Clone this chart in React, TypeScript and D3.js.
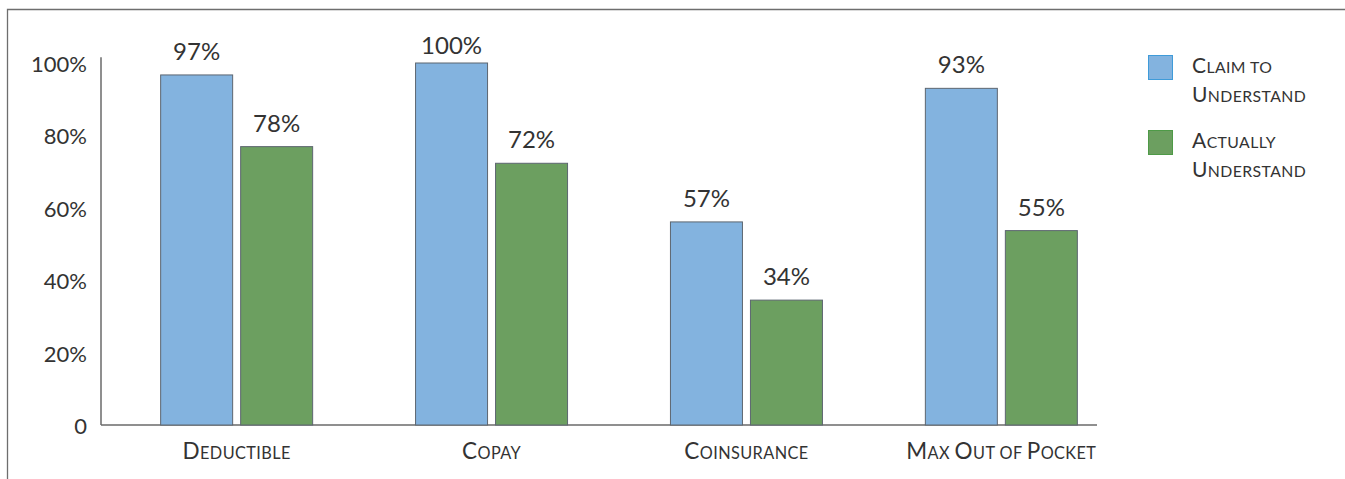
import React from "react";
import * as d3 from "d3";

const categories = ["Deductible", "Copay", "Coinsurance", "Max Out of Pocket"];
const seriesNames = ["Claim to Understand", "Actually Understand"];
// bar heights
const claimValues = [96.7, 100, 56.1, 93];
const actualValues = [76.9, 72.3, 34.5, 53.7];
// data labels as printed on the chart
const claimLabels = ["97%", "100%", "57%", "93%"];
const actualLabels = ["78%", "72%", "34%", "55%"];
const yTicks = [0, 20, 40, 60, 80, 100];
const legendLines = [["Claim to", "Understand"], ["Actually", "Understand"]];

const W = 1345;
const H = 479;
const FONT = "Lato, 'Open Sans', sans-serif";
const TEXT = "#333";
const FILLS = ["#83B3DF", "#6C9F60"];
const LEGEND_STROKES = ["#3F9BD9", "#4E9A47"];

function SmallCaps({ text, big, small, ...rest }: any) {
  const parts: { s: string; b: boolean }[] = [];
  for (const ch of text) {
    const b = ch !== " " && ch === ch.toUpperCase();
    const last = parts[parts.length - 1];
    if (last && last.b === b) last.s += ch.toUpperCase();
    else parts.push({ s: ch.toUpperCase(), b });
  }
  return (
    <text {...rest}>
      {parts.map((p, i) => (
        <tspan key={i} fontSize={p.b ? big : small}>
          {p.s}
        </tspan>
      ))}
    </text>
  );
}

export default function App() {
  const y = d3.scaleLinear().domain([0, 100]).range([425, 63]);
  const x0 = d3
    .scaleBand<string>()
    .domain(categories)
    .range([109.2, 1128.8])
    .paddingInner(0.4037)
    .paddingOuter(0.4037 / 2);
  const x1 = d3
    .scaleBand<string>()
    .domain(seriesNames)
    .range([0, x0.bandwidth()])
    .paddingInner(0.1)
    .paddingOuter(0);
  const series = [claimValues, actualValues];
  const labels = [claimLabels, actualLabels];

  return (
    <svg
      width={W}
      height={H}
      style={{ position: "absolute", left: 0, top: 0, background: "#fff" }}
      fontFamily={FONT}
    >
      <path d={`M7.5,${H} V9.5 H${W}`} fill="none" stroke="#6e6e6e" strokeWidth={1.3} />

      <line x1={101} x2={101} y1={y(101.6)} y2={y(0)} stroke="#6a6a6a" strokeWidth={1.5} />
      <line x1={101} x2={1097} y1={y(0)} y2={y(0)} stroke="#6a6a6a" strokeWidth={1.5} />
      {yTicks.map((t) => (
        <text
          key={t}
          x={87}
          y={y(t) + 1}
          dy="0.36em"
          textAnchor="end"
          fontSize={22}
          fill={TEXT}
        >
          {t === 0 ? "0" : `${t}%`}
        </text>
      ))}

      {categories.map((c, ci) => (
        <g key={c} transform={`translate(${x0(c)},0)`}>
          {seriesNames.map((s, si) => {
            const v = series[si][ci];
            const bx = x1(s)!;
            return (
              <g key={s}>
                <rect
                  x={bx}
                  y={y(v)}
                  width={x1.bandwidth()}
                  height={y(0) - y(v)}
                  fill={FILLS[si]}
                  stroke="#5d6670"
                  strokeWidth={1}
                />
                <text
                  x={bx + x1.bandwidth() / 2}
                  y={Math.max(y(v) - 15, 54)}
                  textAnchor="middle"
                  fontSize={24}
                  fill={TEXT}
                >
                  {labels[si][ci]}
                </text>
              </g>
            );
          })}
          <SmallCaps
            text={c}
            big={22.5}
            small={16.3}
            x={x0.bandwidth() / 2}
            y={459}
            textAnchor="middle"
            fill={TEXT}
            letterSpacing={0.4}
          />
        </g>
      ))}

      {seriesNames.map((s, si) => (
        <g key={s} transform={`translate(1148,${55 + si * 75})`}>
          <rect
            x={0.5}
            y={0.5}
            width={24}
            height={24}
            fill={FILLS[si]}
            stroke={LEGEND_STROKES[si]}
            strokeWidth={1}
          />
          {legendLines[si].map((line, li) => (
            <SmallCaps
              key={li}
              text={line}
              big={21}
              small={15.8}
              x={44}
              y={17.5 + li * 29.5}
              fill={TEXT}
              letterSpacing={0.4}
            />
          ))}
        </g>
      ))}
    </svg>
  );
}
